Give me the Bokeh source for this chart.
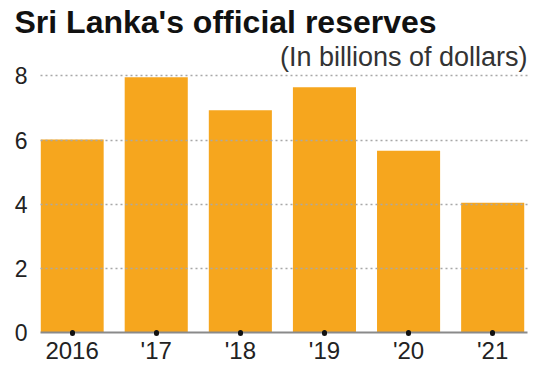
from bokeh.plotting import figure
from bokeh.models import Range1d, FixedTicker, Title, ColumnDataSource
from bokeh.embed import file_html
from bokeh.resources import INLINE

years = ["2016", "'17", "'18", "'19", "'20", "'21"]
reserves = [6.02, 7.96, 6.93, 7.65, 5.67, 4.05]
y_ticks = [0, 2, 4, 6, 8]

idx = list(range(len(years)))
src = ColumnDataSource(dict(x=idx, top=reserves))

p = figure(width=542, height=366, output_backend="svg", toolbar_location=None,
           x_range=Range1d(-0.376, 5.414), y_range=Range1d(0, 8.14),
           min_border_left=40, min_border_right=15, min_border_bottom=33,
           min_border_top=71, title=None)
p.outline_line_color = None
p.background_fill_color = "white"

p.vbar(x="x", top="top", bottom=0, width=0.75, source=src,
       fill_color="#F6A61E", line_color=None)

sub = Title(text="(In billions of dollars)", align="right",
            text_font="Liberation Sans", text_font_size="27px",
            text_font_style="normal", text_color="#333333", standoff=0)
main = Title(text="Sri Lanka's official reserves", align="left", offset=-26,
             text_font="Liberation Sans", text_font_size="32px",
             text_font_style="bold", text_color="#111111", standoff=0)
p.add_layout(sub, "above")
p.add_layout(main, "above")

p.xgrid.visible = False
p.ygrid.ticker = FixedTicker(ticks=[2, 4, 6, 8])
p.ygrid.grid_line_color = "#a8a8a8"
p.ygrid.grid_line_dash = "2 3"
p.ygrid.grid_line_width = 1.5
p.ygrid.level = "overlay"

p.yaxis.ticker = FixedTicker(ticks=y_ticks)
p.yaxis.axis_line_color = None
p.yaxis.major_tick_line_color = None
p.yaxis.minor_tick_line_color = None
p.yaxis.major_label_text_font = "Liberation Sans"
p.yaxis.major_label_text_font_size = "23px"
p.yaxis.major_label_text_color = "#222222"
p.yaxis.major_label_standoff = 7

p.xaxis.ticker = FixedTicker(ticks=idx)
p.xaxis.major_label_overrides = {i: y for i, y in zip(idx, years)}
p.xaxis.axis_line_color = "#8a8a8a"
p.xaxis.axis_line_width = 2
p.xaxis.major_tick_line_color = "#111111"
p.xaxis.major_tick_line_width = 5
p.xaxis.major_tick_line_cap = "round"
p.xaxis.major_tick_in = 0
p.xaxis.major_tick_out = 1
p.xaxis.minor_tick_line_color = None
p.xaxis.major_label_text_font = "Liberation Sans"
p.xaxis.major_label_text_font_size = "24px"
p.xaxis.major_label_text_color = "#222222"
p.xaxis.major_label_standoff = 3

open("out.html", "w").write(file_html(p, INLINE))
